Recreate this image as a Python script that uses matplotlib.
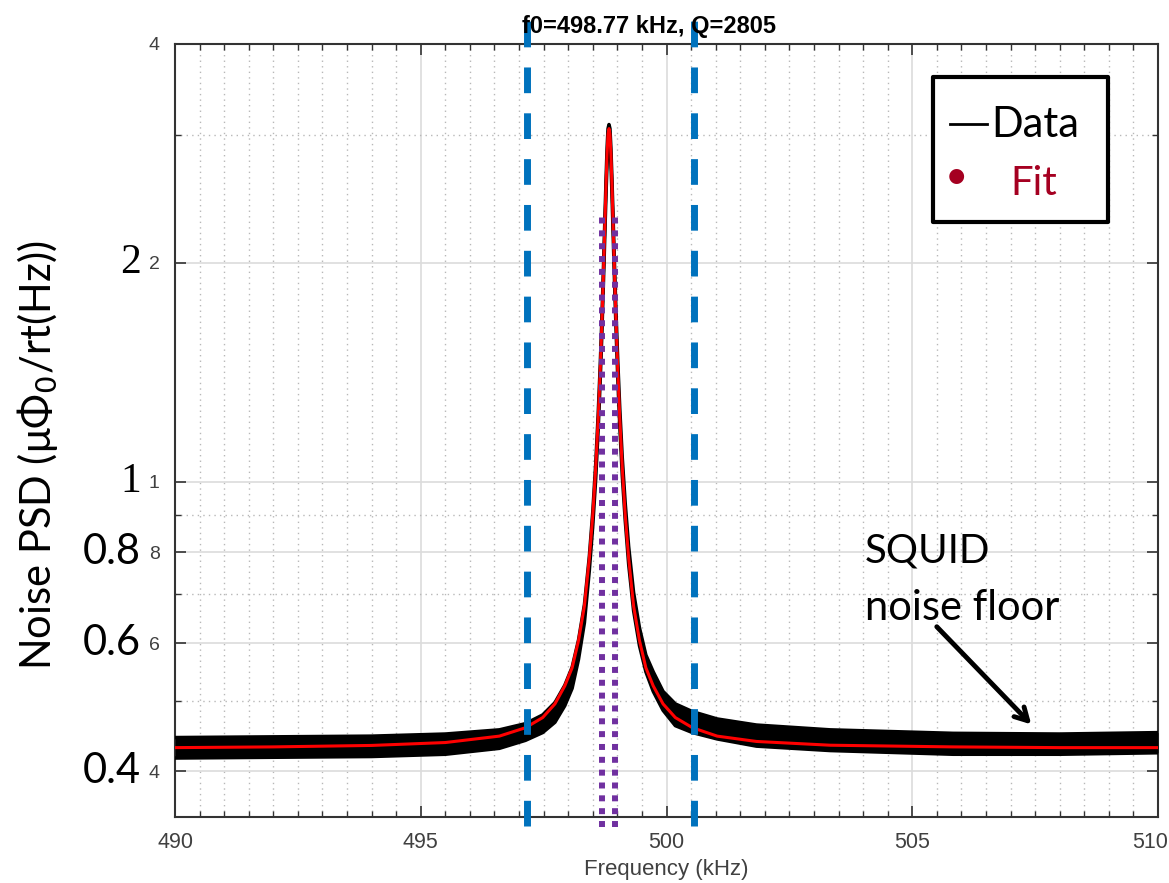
"""
Resonator noise spectrum around f0 with Lorentzian fit, SQUID floor marked.
"""
import matplotlib
matplotlib.use("Agg")
import matplotlib.pyplot as plt
import matplotlib.transforms as mtransforms
from matplotlib.lines import Line2D
from matplotlib.patches import Rectangle
from matplotlib.ticker import MultipleLocator, FixedLocator, FixedFormatter, NullFormatter

plt.rcParams["mathtext.fontset"] = "dejavusans"

freq = [490, 492, 494, 495.5, 496.6, 497.13, 497.48, 497.73, 497.93, 498.08,
        498.21, 498.33, 498.43, 498.50, 498.56, 498.61, 498.65, 498.68, 498.71,
        498.73, 498.75, 498.77, 498.79, 498.81, 498.83,
        498.85, 498.87, 498.89, 498.91, 498.93, 498.95, 498.98, 499.01, 499.05,
        499.10, 499.16, 499.23, 499.33, 499.45, 499.58, 499.73, 499.93, 500.18,
        500.53, 501.03, 501.83, 503.33, 505.83, 508, 510]

# measured data: upper / lower envelope of the noisy black trace
data_hi = [0.445, 0.446, 0.447, 0.450, 0.456, 0.465, 0.478, 0.497, 0.525, 0.556,
           0.606, 0.678, 0.790, 0.910, 1.06, 1.24, 1.44, 1.64, 1.90,
           2.11, 2.35, 2.61, 2.87, 3.06, 3.10,
           3.06, 2.87, 2.62, 2.36, 2.12, 1.91, 1.66, 1.46, 1.26,
           1.08, 0.935, 0.815, 0.705, 0.630, 0.578, 0.548, 0.515, 0.495,
           0.483, 0.472, 0.463, 0.456, 0.451, 0.450, 0.452]
data_lo = [0.417, 0.418, 0.419, 0.422, 0.430, 0.441, 0.452, 0.467, 0.492, 0.520,
           0.570, 0.640, 0.755, 0.870, 1.01, 1.18, 1.37, 1.56, 1.81,
           2.01, 2.24, 2.49, 2.73, 2.92, 2.98,
           2.92, 2.73, 2.49, 2.24, 2.01, 1.81, 1.57, 1.38, 1.19,
           1.02, 0.885, 0.770, 0.665, 0.595, 0.548, 0.515, 0.485, 0.462,
           0.452, 0.443, 0.433, 0.427, 0.422, 0.422, 0.424]

# fitted curve
fit_val = [0.431, 0.432, 0.434, 0.438, 0.447, 0.459, 0.474, 0.495, 0.524, 0.555,
           0.605, 0.675, 0.785, 0.900, 1.046, 1.221, 1.417, 1.613, 1.865,
           2.071, 2.307, 2.564, 2.814, 3.006, 3.06,
           3.006, 2.814, 2.564, 2.307, 2.071, 1.865, 1.613, 1.417, 1.221,
           1.046, 0.900, 0.785, 0.675, 0.605, 0.555, 0.524, 0.495, 0.474,
           0.459, 0.447, 0.4395, 0.4343, 0.432, 0.431, 0.431]

band_edges = [497.16, 500.56]      # blue dashed markers
fwhm_edges = [498.69, 498.95]      # purple dotted markers
fwhm_top = 2.34

xtick_vals = [490, 495, 500, 505, 510]
xtick_labels = ["490", "495", "500", "505", "510"]
ytick_vals = [0.4, 0.6, 0.8, 1, 2, 4]
ytick_small = ["4", "6", "8", "1", "2", "4"]
big_labels = {0.4: "0.4", 0.6: "0.6", 0.8: "0.8", 1: "1", 2: "2"}
yminor_vals = [0.5, 0.7, 0.9, 3]

SANS = ["Lato", "DejaVu Sans"]
W, H = 1169, 883
fig = plt.figure(figsize=(W / 100, H / 100), dpi=100)
ax = fig.add_axes([175 / W, 1 - 817 / H, (1158 - 175) / W, (817 - 44) / H])

ax.set_yscale("log")
ax.set_xlim(490, 510)
ax.set_ylim(0.346, 4)

# data band + fit
ax.fill_between(freq, data_lo, data_hi, color="black", lw=0, zorder=3)
ax.plot(freq, data_hi, color="black", lw=2.5, zorder=3)
ax.plot(freq, data_lo, color="black", lw=2.5, zorder=3)
ax.plot(freq, fit_val, color="#ff0000", lw=2.2, zorder=4)

for f in band_edges:
    ax.plot([f, f], [0.336, 4.31], color="#0072BD", lw=5, ls=(0, (3.7, 2.9)),
            clip_on=False, zorder=6, dash_capstyle="butt")
for f in fwhm_edges:
    ax.plot([f, f], [0.335, fwhm_top], color="#7030A0", lw=4.3, ls=(0, (1, 1.15)),
            clip_on=False, zorder=7, dash_capstyle="butt")

# axes styling (MATLAB-like)
ax.xaxis.set_major_locator(FixedLocator(xtick_vals))
ax.xaxis.set_major_formatter(FixedFormatter(xtick_labels))
ax.xaxis.set_minor_locator(MultipleLocator(0.5))
ax.yaxis.set_major_locator(FixedLocator(ytick_vals))
ax.yaxis.set_major_formatter(FixedFormatter(ytick_small))
ax.yaxis.set_minor_locator(FixedLocator(yminor_vals))
ax.yaxis.set_minor_formatter(NullFormatter())
ax.grid(which="major", color="#dcdcdc", lw=1.2, ls="-", zorder=0)
ax.grid(which="minor", color="#b8b8b8", lw=1.0, ls=(0, (1, 3)), zorder=0)
ax.set_axisbelow(True)
ax.tick_params(which="both", direction="in", top=True, right=True, color="#333333",
               labelcolor="#404040")
ax.tick_params(axis="x", labelsize=15.5, pad=11)
ax.tick_params(axis="y", labelsize=14, pad=11)
ax.tick_params(which="major", length=8, width=1.2)
ax.tick_params(which="minor", length=4, width=1.0)
for s in ax.spines.values():
    s.set_color("#333333")
    s.set_linewidth(1.5)

ax.set_xlabel("Frequency (kHz)", fontsize=16, color="#404040", labelpad=4,
              family="Liberation Sans")

fig.text(649 / W, 1 - 33 / H, "f0=498.77 kHz, Q=2805", fontsize=17, fontweight="bold",
         ha="center", va="baseline", family="Liberation Sans")

# big overlay tick labels (slide text placed over the original ones)
for v, lab in big_labels.items():
    fam = ["Liberation Serif"] if lab in ("1", "2") else SANS
    ax.annotate(lab, xy=(0, v), xycoords=("axes fraction", "data"),
                xytext=(-24.5, 0), textcoords="offset points",
                ha="right", va="center", fontsize=30, family=fam,
                annotation_clip=False, zorder=10)

fig.text(38 / W, 1 - 455 / H, "Noise PSD (μΦ$_0$/rt(Hz))", rotation=90,
         fontsize=30, family=SANS, ha="center", va="center")

# legend box drawn like the slide overlay
fig.add_artist(Rectangle((933 / W, 1 - 222 / H), 175 / W, 145 / H, transform=fig.transFigure,
                         fc="white", ec="black", lw=3, joinstyle="round", zorder=20))
fig.add_artist(Line2D([950 / W, 987 / W], [1 - 124 / H, 1 - 124 / H], transform=fig.transFigure,
                      color="black", lw=2, zorder=21))
fig.text(991 / W, 1 - 137 / H, "Data", fontsize=30, family=SANS,
         va="baseline", ha="left", zorder=21)
fig.text(956 / W, 1 - 177 / H, "•", fontsize=29, color="#A50021",
         family=SANS, va="center", ha="center", zorder=21)
fig.text(1010 / W, 1 - 195 / H, "Fit", fontsize=29, color="#A50021",
         family=SANS, va="baseline", ha="left", zorder=21)

# SQUID floor annotation
fig.text(865 / W, 1 - 563 / H, "SQUID", fontsize=29, family=SANS,
         va="baseline", ha="left")
fig.text(865 / W, 1 - 620 / H, "noise floor", fontsize=30, family=SANS,
         va="baseline", ha="left")
ax.annotate("", xy=(507.46, 0.461), xytext=(505.46, 0.636),
            arrowprops=dict(arrowstyle="->,head_length=0.9,head_width=0.5",
                            color="black", lw=3.5), zorder=8)

# tick label fonts; the last x label hugs the figure edge
fig.canvas.draw()
for lab in ax.get_xticklabels() + ax.get_yticklabels():
    lab.set_family("Liberation Sans")
last = ax.get_xticklabels()[-1]
last.set_horizontalalignment("right")
last.set_transform(last.get_transform() +
                   mtransforms.ScaledTranslation(10 / 100, 0, fig.dpi_scale_trans))

fig.savefig("out.png", dpi=100)
